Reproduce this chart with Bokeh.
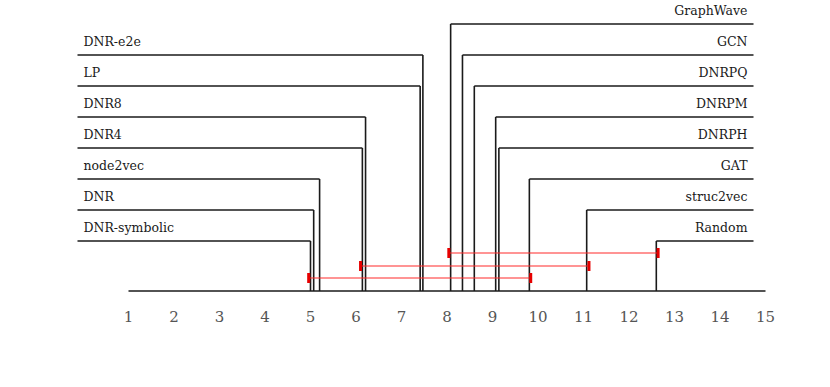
from bokeh.plotting import figure
from bokeh.models import Range1d
from bokeh.core.properties import value
from bokeh.embed import file_html
from bokeh.resources import INLINE

# ---- data ----
left_names = ["DNR-symbolic", "DNR", "node2vec", "DNR4", "DNR8", "LP", "DNR-e2e"]
left_ranks = [5.00, 5.07, 5.20, 6.14, 6.21, 7.41, 7.47]
right_names = ["GraphWave", "GCN", "DNRPQ", "DNRPM", "DNRPH", "GAT", "struc2vec", "Random"]
right_ranks = [8.08, 8.34, 8.60, 9.07, 9.14, 9.81, 11.07, 12.60]
clique_start = [8.04, 6.10, 4.96]
clique_end = [12.64, 11.12, 9.84]
tick_values = list(range(1, 16))
tick_labels = [str(t) for t in tick_values]

# ---- layout ----
W, H = 814, 371
OFF = 0
px_per_rank = 45.5
x0_page = 128  # page x of rank 1
xs = 1 - (x0_page - OFF) / px_per_rank
xe = xs + W / px_per_rank

def rx(page_x):
    return xs + (page_x - OFF) / px_per_rank

p = figure(width=W, height=H, output_backend="svg", toolbar_location=None,
           x_range=Range1d(xs, xe), y_range=Range1d(OFF + H, OFF),
           min_border=0, outline_line_color=None)
p.axis.visible = False
p.grid.visible = False
p.background_fill_color = "white"
p.border_fill_color = "white"

axis_y = 290.5
line_col = "#1a1a1a"
font = value("DejaVu Serif")

# axis line
p.segment(x0=[tick_values[0]], y0=[axis_y], x1=[tick_values[-1]], y1=[axis_y],
          line_color=line_col, line_width=1.6)
p.text(x=tick_values, y=[316] * len(tick_values), text=tick_labels,
       text_font=font, text_font_size="15px", text_color="#555555",
       text_align="center", text_baseline="middle")

left_edge = rx(77)
right_edge = rx(753)
step = 31

# left labels
ly = [240.5 - step * i for i in range(len(left_names))]
p.segment(x0=left_ranks, y0=[axis_y] * len(ly), x1=left_ranks, y1=ly,
          line_color=line_col, line_width=1.6)
p.segment(x0=[left_edge] * len(ly), y0=ly, x1=left_ranks, y1=ly,
          line_color=line_col, line_width=1.6)
p.text(x=[rx(83)] * len(ly), y=[v - 13.5 for v in ly], text=left_names,
       text_font=font, text_font_size="12.5px", text_color="#1a1a1a",
       text_align="left", text_baseline="middle")

# right labels
ry = [23.5 + step * j for j in range(len(right_names))]
p.segment(x0=right_ranks, y0=[axis_y] * len(ry), x1=right_ranks, y1=ry,
          line_color=line_col, line_width=1.6)
p.segment(x0=right_ranks, y0=ry, x1=[right_edge] * len(ry), y1=ry,
          line_color=line_col, line_width=1.6)
p.text(x=[rx(747)] * len(ry), y=[v - 13.5 for v in ry], text=right_names,
       text_font=font, text_font_size="12.5px", text_color="#1a1a1a",
       text_align="right", text_baseline="middle")

# clique bars
cy = [252.5, 265.5, 277.5]
p.segment(x0=clique_start, y0=cy, x1=clique_end, y1=cy,
          line_color="#ff2a2a", line_width=1.1)
p.segment(x0=clique_start, y0=[v - 5 for v in cy], x1=clique_start, y1=[v + 5 for v in cy],
          line_color="#e60000", line_width=3)
p.segment(x0=clique_end, y0=[v - 5 for v in cy], x1=clique_end, y1=[v + 5 for v in cy],
          line_color="#e60000", line_width=3)

open("out.html", "w").write(file_html(p, INLINE))
